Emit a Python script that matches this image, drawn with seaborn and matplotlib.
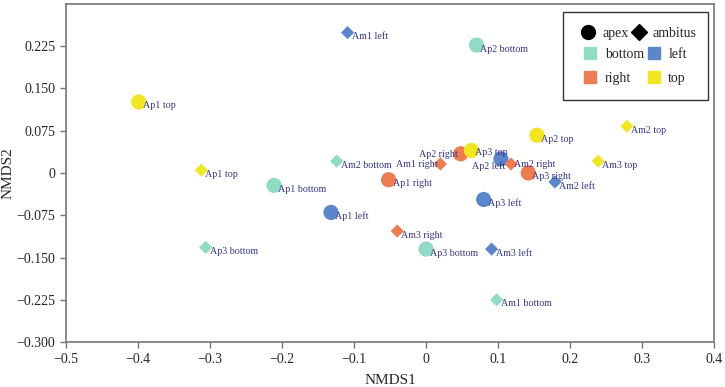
"""NMDS ordination of apex / ambitus samples by position."""

import matplotlib.pyplot as plt
from matplotlib.lines import Line2D
from matplotlib.patches import Rectangle
import pandas as pd
import seaborn as sns

# sample data
labels = [
    "Ap1 top", "Ap1 bottom", "Ap1 left", "Ap1 right",
    "Ap2 top", "Ap2 bottom", "Ap2 left", "Ap2 right",
    "Ap3 top", "Ap3 bottom", "Ap3 left", "Ap3 right",
    "Ap1 top", "Am1 bottom", "Am1 left", "Am1 right",
    "Am2 top", "Am2 bottom", "Am2 left", "Am2 right",
    "Am3 top", "Ap3 bottom", "Am3 left", "Am3 right",
]
part = ["apex"] * 12 + ["ambitus"] * 12
position = ["top", "bottom", "left", "right"] * 6
nmds1 = [
    -0.399, -0.211, -0.132, -0.052,
    0.154, 0.070, 0.104, 0.048,
    0.063, 0.000, 0.080, 0.142,
    -0.312, 0.098, -0.109, 0.020,
    0.279, -0.124, 0.179, 0.118,
    0.239, -0.306, 0.091, -0.040,
]
nmds2 = [
    0.126, -0.022, -0.070, -0.012,
    0.067, 0.227, 0.025, 0.034,
    0.040, -0.135, -0.047, 0.000,
    0.005, -0.225, 0.249, 0.016,
    0.083, 0.021, -0.016, 0.016,
    0.021, -0.132, -0.135, -0.103,
]

x_ticks = [-0.5, -0.4, -0.3, -0.2, -0.1, 0, 0.1, 0.2, 0.3, 0.4]
x_tick_labels = ["\u22120.5", "\u22120.4", "\u22120.3", "\u22120.2", "\u22120.1",
                 "0", "0.1", "0.2", "0.3", "0.4"]
y_ticks = [-0.3, -0.225, -0.15, -0.075, 0, 0.075, 0.15, 0.225]
y_tick_labels = ["\u22120.300", "\u22120.225", "\u22120.150", "\u22120.075",
                 "0", "0.075", "0.150", "0.225"]

df = pd.DataFrame({"label": labels, "part": part, "position": position,
                   "NMDS1": nmds1, "NMDS2": nmds2})

COLORS = {"bottom": "#8fdcc6", "left": "#5b86cc", "right": "#ef7b50", "top": "#f2e622"}
TEXT_COLOR = "#34348a"

# label placement tweaks (pixels, +x right, +y down) for crowded points
LABEL_OFFSETS = {
    ("Am1 right", "ambitus"): (-3, 1, "right"),
    ("Ap2 right", "apex"): (-3, 1, "right"),
    ("Ap2 left", "apex"): (4, 7, "right"),
    ("Ap3 top", "apex"): (4, 2, "left"),
    ("Am2 right", "ambitus"): (3, 1, "left"),
}

sns.set_style("white")
plt.rcParams["font.family"] = ["Liberation Serif", "DejaVu Serif"]

fig, ax = plt.subplots(figsize=(7.25, 3.87), dpi=100)
fig.subplots_adjust(left=0.091, right=0.985, bottom=0.116, top=0.99)

apex = df[df["part"] == "apex"]
ambitus = df[df["part"] == "ambitus"]
sns.scatterplot(data=apex, x="NMDS1", y="NMDS2", hue="position", palette=COLORS,
                marker="o", s=120, linewidth=0, legend=False, ax=ax, zorder=3)
sns.scatterplot(data=ambitus, x="NMDS1", y="NMDS2", hue="position", palette=COLORS,
                marker="D", s=45, linewidth=0, legend=False, ax=ax, zorder=3)

for _, row in df.iterrows():
    dx, dy, ha = LABEL_OFFSETS.get((row["label"], row["part"]), (4, 4, "left"))
    ax.annotate(row["label"], (row["NMDS1"], row["NMDS2"]),
                xytext=(dx * 0.72, -dy * 0.72), textcoords="offset points",
                ha=ha, va="center", fontsize=7.2, color=TEXT_COLOR, zorder=4)

ax.set_xlim(-0.5, 0.4)
ax.set_ylim(-0.3, 0.3)
ax.set_xticks(x_ticks)
ax.set_xticklabels(x_tick_labels)
ax.set_yticks(y_ticks)
ax.set_yticklabels(y_tick_labels)
ax.tick_params(axis="both", which="major", labelsize=10, length=4, width=1,
               color="#777777", direction="out", bottom=True, left=True)
ax.set_xlabel("NMDS1", fontsize=11)
ax.set_ylabel("NMDS2", fontsize=11)
ax.xaxis.set_label_coords(0.5, -0.095)
ax.yaxis.set_label_coords(-0.080, 0.5)
for spine in ax.spines.values():
    spine.set_color("#777777")
    spine.set_linewidth(1.2)

# legend: a shape row and a colour block inside one hand-drawn frame
ax.add_patch(Rectangle((0.767, 0.716), 0.224, 0.260, transform=ax.transAxes,
                       facecolor="white", edgecolor="#333333", linewidth=1.0,
                       zorder=5))

shape_handles = [
    Line2D([], [], marker="o", color="black", linestyle="", markersize=10),
    Line2D([], [], marker="D", color="black", linestyle="", markersize=8),
]
leg1 = ax.legend(shape_handles, ["apex", "ambitus"], ncol=2, loc="center left",
                 bbox_to_anchor=(0.793, 0.912), borderaxespad=0, borderpad=0,
                 fontsize=10, frameon=False, handletextpad=0.4,
                 columnspacing=0.15, handlelength=1.2)
leg1.set_zorder(6)
ax.add_artist(leg1)

color_names = ["bottom", "right", "left", "top"]
color_handles = [Line2D([], [], marker="s", color=COLORS[n], linestyle="",
                        markersize=8) for n in color_names]
leg2 = ax.legend(color_handles, color_names, ncol=2, loc="center left",
                 bbox_to_anchor=(0.796, 0.815), borderaxespad=0, borderpad=0,
                 fontsize=10, frameon=False, handletextpad=0.45,
                 labelspacing=0.75, columnspacing=0.1, handlelength=1.2)
leg2.set_zorder(6)

fig.savefig("out.png", dpi=100)
